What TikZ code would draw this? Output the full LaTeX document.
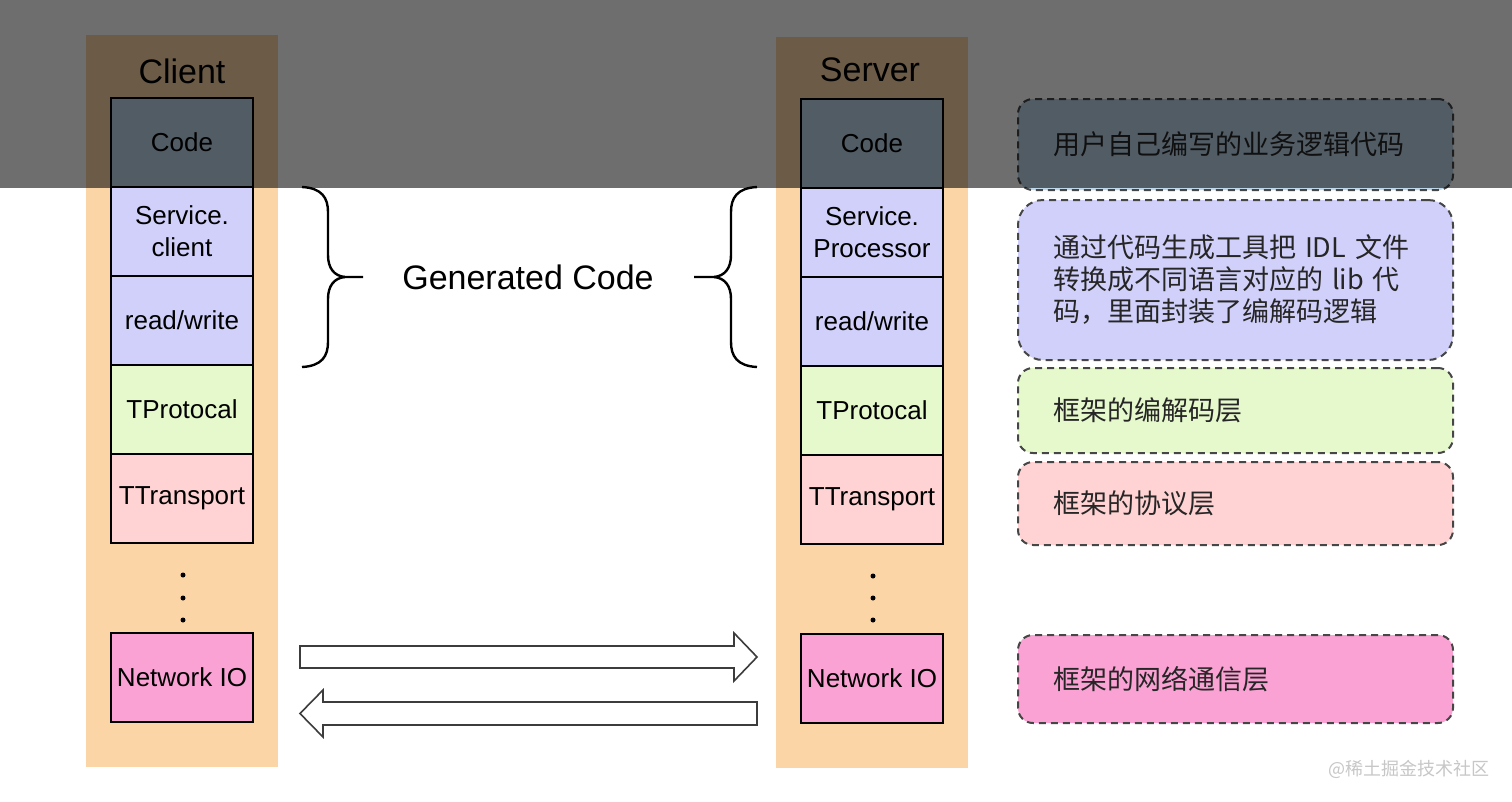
\documentclass[tikz,border=0pt]{standalone}
\usepackage{fontspec}
\setmainfont{Liberation Sans}
\newfontfamily\cjk{Noto Sans CJK SC}
\definecolor{orangecol}{RGB}{252,213,166}
\definecolor{codecol}{RGB}{190,215,235}
\definecolor{lavcol}{RGB}{208,208,250}
\definecolor{greencol}{RGB}{230,249,205}
\definecolor{pinkcol}{RGB}{255,211,211}
\definecolor{magcol}{RGB}{250,162,212}
\definecolor{dashcol}{RGB}{70,70,70}
\definecolor{arrcol}{RGB}{60,60,60}
\begin{document}
\begin{tikzpicture}[x=1pt,y=-1pt,
  col/.style={fill=orangecol, draw=none, minimum width=192pt, inner sep=0pt},
  title/.style={font=\fontsize{34}{38}\selectfont, inner sep=0pt},
  layer/.style={draw=black, line width=2pt, minimum width=142pt, minimum height=89pt,
    inner sep=0pt, align=center, font=\fontsize{26}{32}\selectfont},
  desc/.style={draw=dashcol, line width=2pt, dash pattern=on 7pt off 5pt,
    rounded corners=15pt, text width=365pt, inner xsep=35pt, inner ysep=0pt,
    align=left, font=\cjk\fontsize{27}{32}\selectfont, text=black!85},
  blockarrow/.style={draw=arrcol, line width=1.6pt, fill=white, line join=miter},
  brace/.style={draw=black, line width=2.4pt},
  vdot/.style={circle, fill=black, inner sep=0pt, minimum size=5pt}
]
\useasboundingbox (0,0) rectangle (1512,801);
\fill[white] (0,0) rectangle (1512,801);

% columns
\node[col, minimum height=732pt] (ccol) at (182,401) {};
\node[col, minimum height=731pt] (scol) at (872,402.5) {};
\node[title] (ctitle) at (182,71) {Client};
\node[title] (stitle) at (870,70) {Server};

% client layers
\node[layer, fill=codecol] (ccode) at (182,142.5) {Code};
\node[layer, fill=lavcol] (csvc) at (182,231.5) {Service.\\client};
\node[layer, fill=lavcol] (crw) at (182,320.5) {read/write};
\node[layer, fill=greencol] (cprot) at (182,409.5) {TProtocal};
\node[layer, fill=pinkcol] (ctrans) at (182,498.5) {TTransport};
\node[layer, fill=magcol] (cnet) at (182,677.5) {Network IO};
\node[vdot] (cd1) at (183,575) {};
\node[vdot] (cd2) at (183,598) {};
\node[vdot] (cd3) at (183,620) {};

% server layers
\node[layer, fill=codecol] (scode) at (872,143.5) {Code};
\node[layer, fill=lavcol] (ssvc) at (872,232.5) {Service.\\Processor};
\node[layer, fill=lavcol] (srw) at (872,321.5) {read/write};
\node[layer, fill=greencol] (sprot) at (872,410.5) {TProtocal};
\node[layer, fill=pinkcol] (strans) at (872,499.5) {TTransport};
\node[layer, fill=magcol] (snet) at (872,678.5) {Network IO};
\node[vdot] (sd1) at (873,576) {};
\node[vdot] (sd2) at (873,598) {};
\node[vdot] (sd3) at (873,620) {};

% braces
\path[brace] (302,187) .. controls (322,188) and (328,198) .. (328,212) -- (328,255)
  .. controls (328,268) and (334,276) .. (345,277) -- (363,277);
\path[brace] (345,277) .. controls (334,278) and (328,286) .. (328,299) -- (328,342)
  .. controls (328,356) and (322,366) .. (302,367);
\path[brace] (757,187) .. controls (737,188) and (731,198) .. (731,212) -- (731,255)
  .. controls (731,268) and (725,276) .. (714,277) -- (694,277);
\path[brace] (714,277) .. controls (725,278) and (731,286) .. (731,299) -- (731,342)
  .. controls (731,356) and (737,366) .. (757,367);
\node[font=\fontsize{34}{38}\selectfont, inner sep=0pt] (gen) at (528,277) {Generated Code};

% block arrows
\path[blockarrow] (300,646) -- (734,646) -- (734,633) -- (757,657) -- (734,681)
  -- (734,668) -- (300,668) -- cycle;
\path[blockarrow] (757,702) -- (323,702) -- (323,690) -- (300,713.5) -- (323,737)
  -- (323,725) -- (757,725) -- cycle;

% descriptions
\node[desc, fill=codecol, minimum height=91pt] (d1) at (1235.5,144.5) {用户自己编写的业务逻辑代码};
\node[desc, fill=lavcol, minimum height=160pt, rounded corners=25pt] (d2) at (1235.5,280)
  {通过代码生成工具把 IDL 文件\\转换成不同语言对应的 lib 代\\码，里面封装了编解码逻辑};
\node[desc, fill=greencol, minimum height=85pt] (d3) at (1235.5,410.5) {框架的编解码层};
\node[desc, fill=pinkcol, minimum height=83pt] (d4) at (1235.5,503.5) {框架的协议层};
\node[desc, fill=magcol, minimum height=88pt] (d5) at (1235.5,679) {框架的网络通信层};

% watermark
\node[font=\cjk\fontsize{18}{20}\selectfont, text=black!22, inner sep=0pt, anchor=east] (wm) at (1490,769) {@稀土掘金技术社区};

% top overlay band
\fill[black, opacity=0.57] (0,0) rectangle (1512,188);
\end{tikzpicture}
\end{document}
